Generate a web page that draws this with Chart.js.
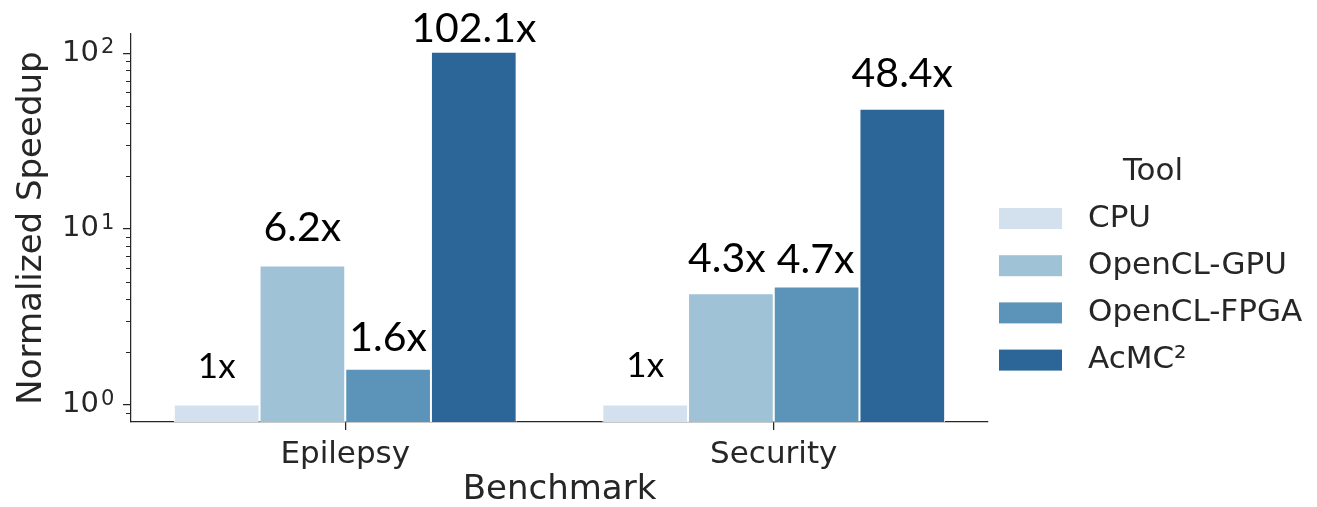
<!DOCTYPE html>
<html>
<head>
<meta charset="utf-8">
<script src="https://cdn.jsdelivr.net/npm/chart.js@4.4.1/dist/chart.umd.min.js"></script>
<style>
  html, body { margin: 0; padding: 0; background: #fff; }
  #wrap { width: 1317px; height: 507px; }
</style>
</head>
<body>
<div id="wrap"><canvas id="chart" width="1317" height="507"></canvas></div>
<script>
"use strict";

// ── Data ─────────────────────────────────────────────────────────────────────

const benchmarks = ["Epilepsy", "Security"];
const tools = ["CPU", "OpenCL-GPU", "OpenCL-FPGA", "AcMC²"];

const cpuSpeedup = [1, 1];
const gpuSpeedup = [6.2, 4.3];
const fpgaSpeedup = [1.6, 4.7];
const acmcSpeedup = [102.1, 48.4];

const majorTicks = [1, 10, 100];
const tickExponents = ["0", "1", "2"];
const minorTicks = [0.9, 2, 3, 4, 5, 6, 7, 8, 9, 20, 30, 40, 50, 60, 70, 80, 90];

// ── Styling ──────────────────────────────────────────────────────────────────

const COLORS = ["#d3e1ee", "#9fc2d6", "#5c94b9", "#2c6699"];
const INK = "#262626";
const LABEL_FONT = "Lato, 'Open Sans', sans-serif";
const TICK_LEN = 8;
const Y_TICK_PAD = 24;

// gap (px) between bar top and the baseline of its value label, [dataset][category]
const LABEL_GAPS = [[27, 28], [24, 21], [18, 14], [10, 22]];
// small horizontal nudges so neighbouring labels don't collide
const LABEL_SHIFT = [[0, 0], [0, -4], [0, -1], [0, 0]];

const series = [cpuSpeedup, gpuSpeedup, fpgaSpeedup, acmcSpeedup];

// ── Plugins ──────────────────────────────────────────────────────────────────

// minor log ticks plus the superscript exponent next to each "10" label
const logAxisPlugin = {
  id: "logAxisExtras",
  afterDraw(chart) {
    const { ctx, chartArea } = chart;
    const y = chart.scales.y;
    ctx.save();
    ctx.strokeStyle = INK;
    ctx.lineWidth = 1;
    minorTicks.forEach(v => {
      const py = Math.round(y.getPixelForValue(v)) + 0.5;
      ctx.beginPath();
      ctx.moveTo(chartArea.left - 5, py);
      ctx.lineTo(chartArea.left, py);
      ctx.stroke();
    });

    ctx.fillStyle = INK;
    ctx.font = "21px 'DejaVu Sans'";
    ctx.textAlign = "left";
    ctx.textBaseline = "alphabetic";
    const ex = chartArea.left - TICK_LEN - Y_TICK_PAD + 2;
    majorTicks.forEach((v, i) => {
      const py = y.getPixelForValue(v);
      ctx.fillText(tickExponents[i], ex, py);
    });
    ctx.restore();
  },
};

const valueLabelPlugin = {
  id: "valueLabels",
  afterDatasetsDraw(chart) {
    const { ctx } = chart;
    ctx.save();
    ctx.fillStyle = "#000";
    ctx.textAlign = "center";
    ctx.textBaseline = "alphabetic";
    chart.data.datasets.forEach((ds, di) => {
      const meta = chart.getDatasetMeta(di);
      meta.data.forEach((bar, i) => {
        const v = ds.data[i];
        const size = v === 1 ? 35 : 41;
        ctx.font = `${size}px ${LABEL_FONT}`;
        ctx.fillText(`${v}x`, bar.x + LABEL_SHIFT[di][i], bar.y - LABEL_GAPS[di][i]);
      });
    });
    ctx.restore();
  },
};

const sideLegendPlugin = {
  id: "sideLegend",
  afterDraw(chart) {
    const { ctx } = chart;
    const left = 999, boxW = 63, boxH = 21, textX = 1088, rowStep = 47.2;
    const firstRow = 218.5;
    ctx.save();
    ctx.font = "31px 'DejaVu Sans'";
    ctx.fillStyle = INK;
    ctx.textBaseline = "middle";
    ctx.textAlign = "center";
    ctx.fillText("Tool", 1153, 172);
    ctx.textAlign = "left";
    chart.data.datasets.forEach((ds, i) => {
      const cy = firstRow + i * rowStep;
      ctx.fillStyle = ds.backgroundColor;
      ctx.fillRect(left, cy - boxH / 2, boxW, boxH);
      ctx.fillStyle = INK;
      ctx.fillText(ds.label, textX, cy);
    });
    ctx.restore();
  },
};

// ── Chart ────────────────────────────────────────────────────────────────────

const datasets = tools.map((name, i) => ({
  label: name,
  data: series[i],
  backgroundColor: COLORS[i],
  borderColor: "#ffffff",
  borderWidth: 1,
  barPercentage: 1.0,
  categoryPercentage: 0.8,
}));

new Chart(document.getElementById("chart"), {
  type: "bar",
  data: { labels: benchmarks, datasets },
  plugins: [logAxisPlugin, valueLabelPlugin, sideLegendPlugin],
  options: {
    responsive: false,
    animation: false,
    layout: { padding: { left: 0, right: 329, top: 34, bottom: 0 } },
    plugins: {
      legend: { display: false },
      tooltip: { enabled: false },
    },
    scales: {
      x: {
        offset: true,
        grid: {
          display: true,
          offset: false,
          drawOnChartArea: false,
          tickLength: TICK_LEN,
          color: INK,
          lineWidth: 1.25,
        },
        border: { display: true, color: INK, width: 1.25 },
        ticks: {
          color: INK,
          padding: 6,
          font: { family: "'DejaVu Sans'", size: 31 },
        },
        title: {
          display: true,
          text: "Benchmark",
          color: INK,
          font: { family: "'DejaVu Sans'", size: 34, lineHeight: 1 },
          padding: { top: 0, bottom: 0 },
        },
        afterFit(scale) { scale.height = 85; },
      },
      y: {
        type: "logarithmic",
        min: 0.795,
        max: 129,
        grid: {
          display: true,
          drawOnChartArea: false,
          tickLength: TICK_LEN,
          color: INK,
          lineWidth: 1.25,
        },
        border: { display: true, color: INK, width: 1.25 },
        afterBuildTicks(scale) {
          scale.ticks = majorTicks.map(v => ({ value: v, major: true }));
        },
        ticks: {
          color: INK,
          padding: Y_TICK_PAD,
          font: { family: "'DejaVu Sans'", size: 29 },
          callback: value => (majorTicks.includes(value) ? "10" : ""),
        },
        title: {
          display: true,
          text: "Normalized Speedup",
          color: INK,
          font: { family: "'DejaVu Sans'", size: 34, lineHeight: 1 },
          padding: { top: 15, bottom: 0 },
        },
        afterFit(scale) {
          scale.width = 131;
          scale.paddingTop = 0;
          scale.paddingBottom = 0;
        },
      },
    },
  },
});
</script>
</body>
</html>
